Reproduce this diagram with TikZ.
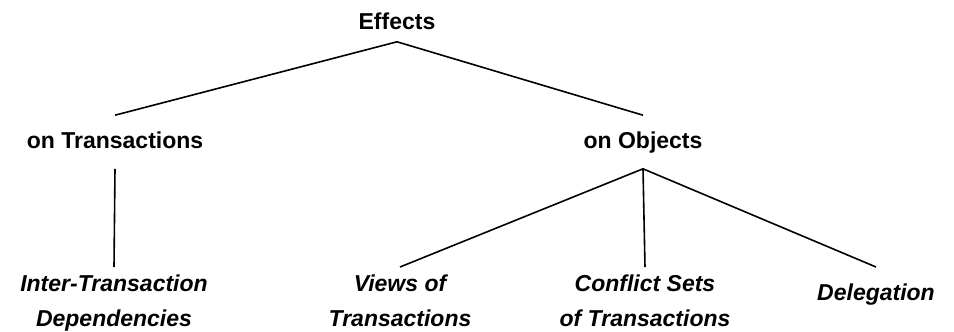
\documentclass[tikz,border=0pt]{standalone}
\usepackage{fontspec}
\setmainfont{Liberation Sans}

\tikzset{
  head/.style={font=\bfseries\fontsize{23}{35}\selectfont, anchor=base,
    text height=17pt, text depth=5pt, inner xsep=0pt, inner ysep=15pt},
  leaf/.style={font=\bfseries\itshape\fontsize{23}{35.5}\selectfont, anchor=north,
    align=center, inner xsep=0pt, inner ysep=7pt},
}

\begin{document}
\begin{tikzpicture}[x=1pt,y=-1pt,line width=1.6pt]
				\useasboundingbox (0,0) rectangle (954,332);
				\node[head, inner ysep=6pt] (effects) at (397,30) {Effects};
				%--
				\node[head] (ontrans) at (115,148) {on Transactions};
				\node[head] (onobj) at (643,148) {on Objects};
				\draw (effects.south) -- (ontrans.north);
				\draw (effects.south) -- (onobj.north);
				%--
				\node[leaf] (interdep) at (114,267) {Inter-Transaction\\Dependencies};
				\draw (ontrans.south) -- (interdep.north);
				%--
				\node[leaf] (views) at (400,267) {Views of\\Transactions};
				\node[leaf] (conflict) at (645,267) {Conflict Sets\\of Transactions};
				\node[leaf, inner ysep=16pt] (deleg) at (876,267) {Delegation};
				\draw (onobj.south) -- (views.north);
				\draw (onobj.south) -- (conflict.north);
				\draw (onobj.south) -- (deleg.north);
			\end{tikzpicture}
\end{document}
